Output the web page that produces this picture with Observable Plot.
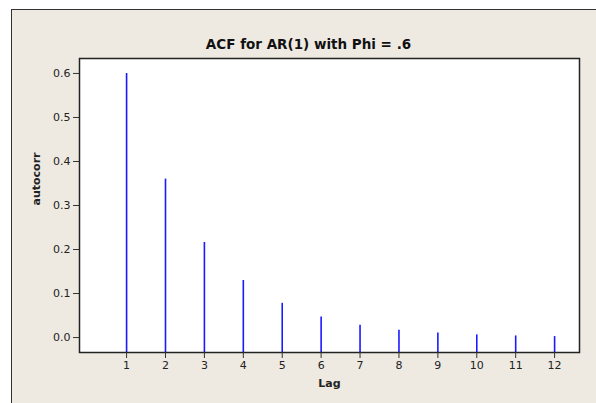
<!DOCTYPE html>
<html><head><meta charset="utf-8">
<script src="https://cdn.jsdelivr.net/npm/d3@7"></script>
<script src="https://cdn.jsdelivr.net/npm/@observablehq/plot@0.6"></script>
<style>
html,body{margin:0;padding:0;background:#fff;}
#wrap{position:relative;width:596px;height:403px;overflow:hidden;}
#bg{position:absolute;left:11px;top:9px;width:620px;height:420px;background:#EEEAE2;border-left:1px solid #333;border-top:1px solid #333;}
#chart{position:absolute;left:0;top:0;}
</style></head>
<body><div id="wrap"><div id="bg"></div><div id="chart"></div></div>
<script>
const lags = [1, 2, 3, 4, 5, 6, 7, 8, 9, 10, 11, 12];
const acf = [0.6, 0.36, 0.216, 0.1296, 0.0778, 0.0467, 0.028, 0.0168, 0.0101, 0.006, 0.0036, 0.0022];
const yTicks = [0, 0.1, 0.2, 0.3, 0.4, 0.5, 0.6];
const title = "ACF for AR(1) with Phi = .6";
const xLabel = "Lag";
const yLabel = "autocorr";
const xDomain = [-0.21, 12.64];
const yDomain = [-0.034, 0.634];

const data = lags.map((l, i) => ({lag: l, acf: acf[i]}));

const plot = Plot.plot({
  width: 596, height: 403,
  marginLeft: 79, marginTop: 58, marginRight: 17, marginBottom: 51,
  style: {background: "transparent", fontFamily: "DejaVu Sans", fontSize: "11px", color: "#222", overflow: "visible"},
  x: {domain: xDomain, label: null},
  y: {domain: yDomain, label: null},
  marks: [
    Plot.frame({fill: "white", stroke: "none"}),
    Plot.ruleX(data, {x: "lag", y1: yDomain[0], y2: "acf", stroke: "#1a1aff", strokeWidth: 1.6}),
    Plot.frame({stroke: "#222", strokeWidth: 1.5}),
    Plot.axisX({ticks: lags, tickFormat: d => String(d), tickSize: 6, tickPadding: 3, label: null, stroke: "#333", fill: "#222"}),
    Plot.axisY({ticks: yTicks, tickFormat: d3.format(".1f"), tickSize: 6, tickPadding: 3, label: null, stroke: "#333", fill: "#222"}),
    Plot.text([title], {text: d => d, frameAnchor: "top", dy: -19, dx: -21, fontWeight: "bold", fontSize: 13.5, fill: "#111"}),
    Plot.text([xLabel], {text: d => d, frameAnchor: "bottom", dy: 34, fontWeight: "bold", fontSize: 11, fill: "#222"}),
    Plot.text([yLabel], {text: d => d, frameAnchor: "left", dx: -43, rotate: -90, fontWeight: "bold", fontSize: 11, fill: "#222"})
  ]
});
document.getElementById("chart").appendChild(plot);
</script>
</body></html>
